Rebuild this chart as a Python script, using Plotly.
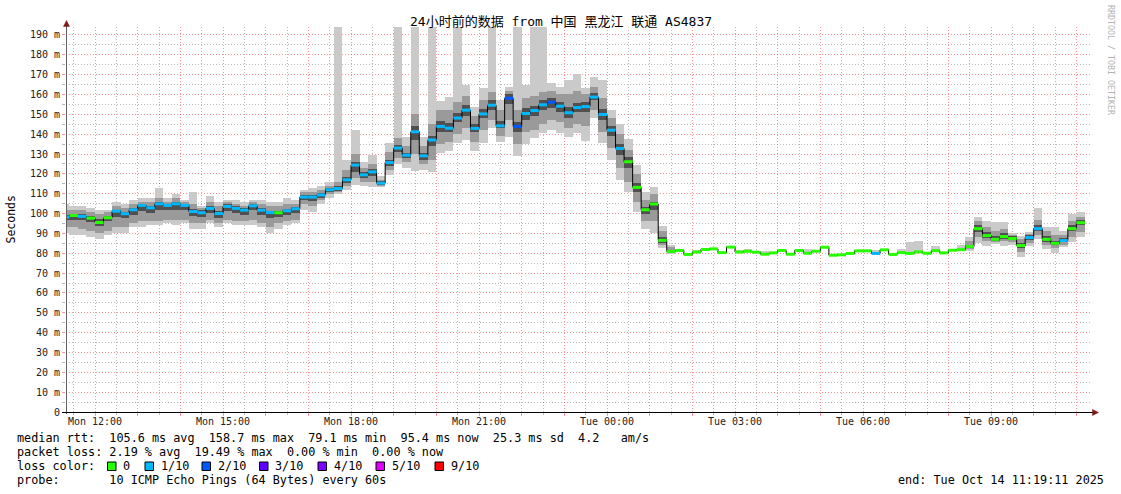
import pandas as pd
import plotly.graph_objects as go

# ---------------- data ----------------
STEP_MIN = 12
first_step = "2025-10-13 11:12:00"
range_start = "2025-10-13 11:19:11"
range_end = "2025-10-14 11:19:11"

median = [
    98.2, 99.0, 98.6, 97.7, 95.5, 97.9, 101.2, 99.9, 101.9, 104.1,
    102.9, 104.9, 104.1, 104.9, 104.1, 101.0, 100.4, 102.6, 100.0, 103.6,
    102.6, 101.7, 103.9, 101.7, 100.5, 100.4, 101.4, 102.4, 108.3, 108.3,
    109.4, 112.0, 112.6, 117.0, 124.4, 119.5, 121.0, 115.3, 125.7, 133.0,
    129.4, 141.2, 129.1, 137.1, 143.9, 143.0, 148.1, 152.1, 142.9, 150.2,
    154.6, 144.2, 158.1, 143.9, 150.4, 151.9, 154.8, 156.1, 154.1, 150.8,
    153.4, 153.9, 158.7, 149.9, 142.0, 132.8, 126.1, 113.2, 101.9, 104.8,
    86.5, 80.9, 81.4, 79.4, 80.6, 81.9, 82.2, 80.3, 83.1, 80.6,
    81.0, 80.5, 79.5, 80.2, 81.4, 79.5, 81.4, 80.0, 81.0, 83.0,
    79.0, 79.2, 79.9, 81.2, 81.2, 79.9, 81.7, 79.4, 80.3, 79.9,
    80.7, 80.0, 81.3, 80.2, 81.5, 81.8, 83.4, 92.4, 88.9, 87.0,
    88.4, 87.4, 83.9, 87.9, 92.4, 87.0, 85.0, 86.4, 92.4, 95.4,
]

smoke_lo = [
    90, 89, 89, 88, 87, 89, 90, 90, 93, 93,
    94, 94, 95, 94, 95, 92, 92, 95, 93, 95,
    94, 94, 94, 93, 90, 92, 94, 95, 102, 101,
    105, 108, 110, 112, 114.5, 114.1, 113.6, 113.3, 119.5, 125,
    122.9, 121.2, 122, 120.9, 130.4, 131.6, 135.5, 137.1, 131.3, 135.5,
    143, 136.3, 138.5, 128.8, 135.1, 138, 140.5, 142.2, 140.8, 138.8,
    140.5, 136.8, 148, 135.8, 127.1, 117, 110.7, 101, 92.3, 90.2,
    82.6, 79.7, 81.0, 79.0, 80.2, 81.5, 81.8, 80.0, 82.7, 80.2,
    80.6, 80.1, 79.1, 79.8, 81.0, 79.1, 81.0, 79.6, 80.6, 82.6,
    78.6, 78.8, 79.5, 80.8, 80.8, 79.5, 81.3, 79.0, 79.9, 79.5,
    80.3, 79.6, 80.5, 79.8, 81.1, 81.4, 81.3, 85.4, 83.4, 84.7,
    83.4, 84.2, 78.3, 83.7, 87.0, 82.0, 80.3, 83.0, 85.9, 88.0,
]

smoke_hi = [
    105, 104, 104, 103, 102, 102, 106, 105, 107, 108,
    108, 113, 108, 110, 107, 111, 104, 109, 106, 107,
    107, 106, 107, 107, 106, 106, 108, 107, 112, 113,
    114, 116, 200, 127, 142.2, 126.2, 129.6, 118.7, 135.5, 200,
    138.8, 200, 138.5, 200, 156.5, 158.6, 200, 164.9, 153.6, 163.2,
    200, 157.3, 164, 200, 164.9, 200, 200, 165.7, 164, 167.4,
    170.2, 163.2, 168.7, 167.4, 152.3, 145.2, 137.8, 124.6, 111.1, 113.3,
    93.9, 84.3, 82.0, 79.8, 81.7, 82.3, 82.6, 80.7, 83.5, 81.7,
    82.2, 80.9, 81.0, 80.6, 82.1, 79.9, 81.8, 82.0, 81.4, 83.4,
    79.4, 79.6, 80.3, 81.6, 81.6, 81.7, 82.1, 79.8, 82.2, 85.9,
    86.2, 80.4, 83.7, 80.6, 81.9, 84.2, 88.4, 98.5, 96.3, 95.6,
    95.6, 90.4, 88.7, 90.7, 102.7, 93.1, 93.1, 91.4, 99.8, 100.8,
]

mid_lo = [
    93, 93, 92, 91, 90, 91, 93, 93, 95, 96,
    96, 96, 97, 97, 97, 95, 95, 97, 95, 97,
    96, 96, 97, 95, 93, 95, 96, 97, 105, 104,
    107, 110, 111, 114, 118, 116, 116, 114, 122, 128,
    126, 130, 125, 127, 135, 136, 140, 143, 136, 142,
    147, 139, 147, 135, 141, 142, 145, 147, 146, 143,
    145, 144, 152, 141, 133, 123, 116, 106, 96, 96,
    84, 80.2, 81.4, 79.4, 80.6, 81.9, 82.2, 80.3, 83.1, 80.6,
    81.0, 80.5, 79.5, 80.2, 81.4, 79.5, 81.4, 80.0, 81.0, 83.0,
    79.0, 79.2, 79.9, 81.2, 81.2, 79.9, 81.7, 79.4, 80.3, 79.9,
    80.7, 80.0, 81.3, 80.2, 81.5, 81.8, 82, 88, 86, 85.5,
    86, 85.5, 80.5, 85, 89, 84, 82.5, 84, 88, 90.5,
]

mid_hi = [
    102, 102, 102, 101, 100, 101, 104, 103, 105, 106,
    106, 108, 106, 108, 106, 105, 103, 106, 104, 106,
    105, 104, 106, 105, 104, 104, 105, 105, 111, 111,
    112, 114, 116, 122, 130, 123, 125, 117, 131, 138,
    134, 150, 134, 145, 152, 152, 156, 159, 149, 157,
    161, 152, 162, 152, 158, 159, 161, 162, 160, 160,
    162, 160, 164, 158, 148, 140, 132, 120, 107, 110,
    91, 83, 81.4, 79.4, 80.6, 81.9, 82.2, 80.3, 83.1, 80.6,
    81.0, 80.5, 79.5, 80.2, 81.4, 79.5, 81.4, 80.0, 81.0, 83.0,
    79.0, 79.2, 79.9, 81.2, 81.2, 79.9, 81.7, 79.4, 80.3, 79.9,
    80.7, 80.0, 81.3, 80.2, 81.5, 81.8, 86, 96, 93, 91,
    92, 89, 87, 89.5, 97, 91, 89, 89, 96, 98.5,
]

core_lo = [
    96.5, 97, 96.5, 95.5, 93.5, 96, 98.5, 98, 99.5, 101.5,
    100.5, 102, 102, 102, 102, 99, 98.5, 100.5, 98, 101.5,
    100.5, 99.5, 102, 99.5, 98, 98.5, 99.5, 100.5, 107, 106.5,
    108, 111, 111.5, 115.5, 121, 118, 119, 114.5, 124, 131,
    128, 137, 127, 134, 141, 141, 146, 149, 141, 148,
    152, 143, 155, 141, 147, 149, 152, 153, 151, 148,
    151, 151, 157, 147, 139, 129.5, 123, 111, 100, 102,
    85, 80.3, 81.4, 79.4, 80.6, 81.9, 82.2, 80.3, 83.1, 80.6,
    81.0, 80.5, 79.5, 80.2, 81.4, 79.5, 81.4, 80.0, 81.0, 83.0,
    79.0, 79.2, 79.9, 81.2, 81.2, 79.9, 81.7, 79.4, 80.3, 79.9,
    80.7, 80.0, 81.3, 80.2, 81.5, 81.8, 82.8, 90.5, 87.5, 86,
    87, 86.5, 82.5, 86.5, 91, 85.5, 84, 85.5, 91, 94,
]

core_hi = [
    99.5, 100, 100, 99, 97.5, 99, 102, 101, 103, 105,
    104, 106, 105, 106, 105, 102.5, 102, 104, 101.5, 105,
    104, 103, 105, 103, 101.5, 101.5, 102.5, 103.5, 109.5, 109.5,
    110.5, 113, 114, 118.5, 126, 121, 122.5, 116.5, 127, 134.5,
    130.5, 144, 130.5, 139, 146.5, 145.5, 150.5, 154.5, 145, 152.5,
    157, 146.5, 160, 146, 153, 154, 157, 158, 156, 153.5,
    155.5, 156, 160.5, 152.5, 144, 135, 128.5, 115.5, 103.5, 106,
    88, 81.8, 81.4, 79.4, 80.6, 81.9, 82.2, 80.3, 83.1, 80.6,
    81.0, 80.5, 79.5, 80.2, 81.4, 79.5, 81.4, 80.0, 81.0, 83.0,
    79.0, 79.2, 79.9, 81.2, 81.2, 79.9, 81.7, 79.4, 80.3, 79.9,
    80.7, 80.0, 81.3, 80.2, 81.5, 81.8, 84.2, 94, 90.5, 88.5,
    90, 88.5, 85, 89, 94, 88.5, 86, 87.5, 94, 97,
]

# loss per step, in tenths of the 10 pings
loss_tenths = [
    1, 0, 1, 0, 0, 0, 1, 1, 1, 1,
    1, 1, 1, 1, 1, 1, 1, 1, 1, 1,
    1, 1, 1, 1, 1, 0, 1, 1, 1, 1,
    1, 1, 1, 1, 1, 1, 1, 1, 1, 1,
    1, 1, 1, 1, 1, 1, 1, 1, 1, 1,
    1, 1, 2, 2, 1, 1, 1, 2, 1, 1,
    1, 1, 1, 1, 1, 1, 0, 0, 0, 0,
    0, 0, 0, 0, 0, 0, 0, 0, 0, 0,
    0, 0, 0, 0, 0, 0, 0, 0, 0, 0,
    0, 0, 0, 0, 0, 1, 0, 0, 0, 0,
    0, 0, 0, 0, 0, 0, 0, 0, 0, 0,
    0, 0, 0, 1, 1, 0, 0, 1, 0, 0,
]

loss_levels = [0, 1, 2, 3, 4, 5, 9]
loss_labels = ["0", "1/10", "2/10", "3/10", "4/10", "5/10", "9/10"]
loss_colors = ["#26ff00", "#00b8ff", "#0059ff", "#5e00ff", "#7e00ff", "#dd00ff", "#ff0000"]

hour_ticks = pd.date_range("2025-10-13 12:00", "2025-10-14 11:00", freq="1h")
label_times = pd.date_range("2025-10-13 12:00", "2025-10-14 09:00", freq="3h")
label_texts = ["Mon 12:00", "Mon 15:00", "Mon 18:00", "Mon 21:00",
               "Tue 00:00", "Tue 03:00", "Tue 06:00", "Tue 09:00"]
half_ticks = pd.date_range("2025-10-13 11:30", periods=24, freq="1h")

y_major = list(range(0, 200, 10))
y_major_text = ["0"] + [f"{v} m" for v in y_major[1:]]
y_minor = list(range(5, 195, 10))
Y_MAX = 194

title_text = "24小时前的数据 from 中国 黑龙江 联通 AS4837"
stats_lines = [
    "median rtt:  105.6 ms avg  158.7 ms max  79.1 ms min  95.4 ms now  25.3 ms sd  4.2   am/s",
    "packet loss: 2.19 % avg  19.49 % max  0.00 % min  0.00 % now",
    "loss color:",
    "probe:       10 ICMP Echo Pings (64 Bytes) every 60s",
]
end_text = "end: Tue Oct 14 11:19:11 2025"

# ---------------- layout geometry ----------------
W, H = 1121, 494
L, R, T, B = 66, 31, 27, 82
PW, PH = W - L - R, H - T - B

def px(x):
    return (x - L) / PW

def py(y):
    return (H - B - y) / PH

MONO = "DejaVu Sans Mono, Noto Sans CJK SC, monospace"

starts = pd.date_range(first_step, periods=len(median), freq=f"{STEP_MIN}min")
step = pd.Timedelta(minutes=STEP_MIN)
centers = starts + step / 2
width_ms = STEP_MIN * 60 * 1000

fig = go.Figure()

def smoke(lo, hi, color):
    fig.add_trace(go.Bar(
        x=centers, base=lo, y=[h - l for l, h in zip(lo, hi)],
        width=width_ms, marker=dict(color=color, line=dict(width=0)),
        hoverinfo="skip", showlegend=False))

smoke(smoke_lo, smoke_hi, "#cacaca")
smoke(mid_lo, mid_hi, "#9a9a9a")
smoke(core_lo, core_hi, "#505050")

# black step line through the medians
fig.add_trace(go.Scatter(
    x=list(starts) + [starts[-1] + step], y=median + [median[-1]],
    mode="lines", line=dict(color="#000000", width=1, shape="hv"),
    hoverinfo="skip", showlegend=False))

# coloured median segments by loss
for lvl, col in zip(loss_levels, loss_colors):
    xs, ys = [], []
    for s, m, ls in zip(starts, median, loss_tenths):
        if ls == lvl:
            xs += [s, s + step, None]
            ys += [m, m, None]
    if xs:
        fig.add_trace(go.Scatter(x=xs, y=ys, mode="lines",
                                 line=dict(color=col, width=3),
                                 hoverinfo="skip", showlegend=False))

MAJ = "rgba(255,0,0,0.42)"
MIN = "rgba(0,0,0,0.27)"
DOT = "1px,2px"

label_set = set(label_times)
tick_text = [label_texts[list(label_times).index(t)] if t in label_set else "" for t in hour_ticks]

fig.update_xaxes(
    type="date", range=[range_start, range_end],
    tickmode="array", tickvals=list(hour_ticks), ticktext=tick_text,
    showgrid=True, gridcolor=MAJ, griddash=DOT, gridwidth=1,
    ticks="outside", ticklen=3, tickcolor=MAJ, tickwidth=1,
    ticklabelstandoff=-3,
    minor=dict(tickmode="array", tickvals=list(half_ticks), showgrid=True,
               gridcolor=MIN, griddash=DOT, gridwidth=1,
               ticks="outside", ticklen=2, tickcolor=MIN),
    showline=False, zeroline=False,
    tickfont=dict(family=MONO, size=10, color="#222222"),
    fixedrange=True,
)
fig.update_yaxes(
    range=[0, Y_MAX], tickmode="array", tickvals=y_major, ticktext=y_major_text,
    showgrid=True, gridcolor=MAJ, griddash=DOT, gridwidth=1,
    ticks="outside", ticklen=3, tickcolor=MAJ, tickwidth=1,
    minor=dict(tickmode="array", tickvals=y_minor, showgrid=True,
               gridcolor=MIN, griddash=DOT, gridwidth=1,
               ticks="outside", ticklen=3, tickcolor=MIN),
    showline=False, zeroline=False,
    tickfont=dict(family=MONO, size=10, color="#222222"),
    fixedrange=True,
)

shapes = []
# axis lines
shapes.append(dict(type="line", xref="paper", yref="paper",
                   x0=px(66.5), x1=px(66.5), y0=py(414), y1=py(24),
                   line=dict(color="#606060", width=1)))
shapes.append(dict(type="line", xref="paper", yref="paper",
                   x0=px(62), x1=px(1094), y0=py(412.5), y1=py(412.5),
                   line=dict(color="#000000", width=1)))
# arrow heads
ARROW = "#7f1a1a"
shapes.append(dict(type="path", xref="paper", yref="paper",
                   path=f"M {px(63.5)},{py(26.5)} L {px(66.5)},{py(20.5)} L {px(69.5)},{py(26.5)} Z",
                   fillcolor=ARROW, line=dict(color=ARROW, width=0.5)))
shapes.append(dict(type="path", xref="paper", yref="paper",
                   path=f"M {px(1092.5)},{py(409.5)} L {px(1098.5)},{py(412.5)} L {px(1092.5)},{py(415.5)} Z",
                   fillcolor=ARROW, line=dict(color=ARROW, width=0.5)))

annotations = []
annotations.append(dict(text=title_text, xref="paper", yref="paper",
                        x=px(560.5), y=py(21), xanchor="center", yanchor="middle",
                        showarrow=False, font=dict(family=MONO, size=13, color="#000000")))
annotations.append(dict(text="Seconds", xref="paper", yref="paper",
                        x=px(10), y=py(219.5), xanchor="center", yanchor="middle",
                        textangle=-90, showarrow=False,
                        font=dict(family=MONO, size=11.5, color="#000000")))
annotations.append(dict(text="RRDTOOL / TOBI OETIKER", xref="paper", yref="paper",
                        x=px(1111), y=py(60), xanchor="center", yanchor="middle",
                        textangle=90, showarrow=False,
                        font=dict(family=MONO, size=8.3, color="#b4b4b4")))

row_y = [438, 452, 466, 480]
for txt, yy in zip(stats_lines, row_y):
    annotations.append(dict(text=txt.replace(" ", "&nbsp;"), xref="paper", yref="paper",
                            x=px(14.5), y=py(yy), xanchor="left", yanchor="middle",
                            showarrow=False, font=dict(family=MONO, size=11.8, color="#000000")))
annotations.append(dict(text=end_text, xref="paper", yref="paper",
                        x=px(1106), y=py(480), xanchor="right", yanchor="middle",
                        showarrow=False, font=dict(family=MONO, size=11.8, color="#000000")))

box_x = [107.5, 145, 202, 259.5, 318, 376, 435]
for bx, lab, col in zip(box_x, loss_labels, loss_colors):
    shapes.append(dict(type="rect", xref="paper", yref="paper",
                       x0=px(bx), x1=px(bx + 8.5), y0=py(470.5), y1=py(462),
                       fillcolor=col, line=dict(color="#000000", width=1)))
    annotations.append(dict(text=lab, xref="paper", yref="paper",
                            x=px(bx + 13.5), y=py(466), xanchor="left", yanchor="middle",
                            showarrow=False, font=dict(family=MONO, size=11.8, color="#000000")))

fig.update_layout(
    width=W, height=H, margin=dict(l=L, r=R, t=T, b=B, pad=0),
    paper_bgcolor="#ffffff", plot_bgcolor="#ffffff",
    barmode="overlay", bargap=0, showlegend=False, hovermode=False,
    shapes=shapes, annotations=annotations,
)

fig.write_html("out.html",
               config={"displayModeBar": False, "staticPlot": True},
               post_script="document.body.style.margin='0px';document.body.style.overflow='hidden';")
